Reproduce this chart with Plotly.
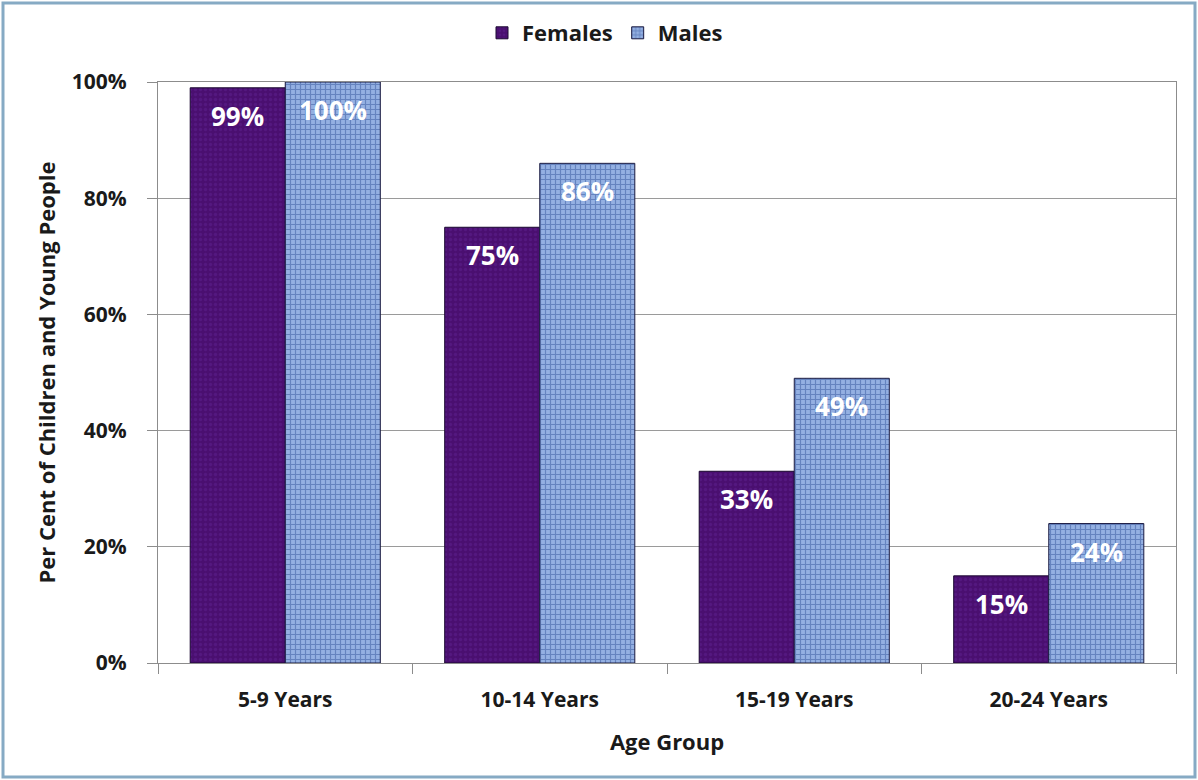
import plotly.graph_objects as go

categories = ["5-9 Years", "10-14 Years", "15-19 Years", "20-24 Years"]
females = [99, 75, 33, 15]
males = [100, 86, 49, 24]
y_ticks = [0, 20, 40, 60, 80, 100]
y_tick_labels = ["0%", "20%", "40%", "60%", "80%", "100%"]

FONT = "'Open Sans', Lato, Arial, sans-serif"
W, H = 1198, 780
ML, MR, MT, MB = 158, 22, 82, 117

fig = go.Figure()
fig.add_trace(go.Bar(
    name="Females", x=categories, y=females,
    marker=dict(color="#4a0f70", line=dict(color="#1a0830", width=1),
                pattern=dict(shape=".", fgcolor="#5e2290", size=5, solidity=0.35)),
))
fig.add_trace(go.Bar(
    name="Males", x=categories, y=males,
    marker=dict(color="#94b0e2", line=dict(color="#1a1a40", width=1),
                pattern=dict(shape="+", fgcolor="#35559b", bgcolor="#94b0e2", size=5, solidity=0.42)),
))

# value labels inside bars near the top
annots = []
for vals, shift in ((females, -47.5), (males, 47.5)):
    for c, v in zip(categories, vals):
        annots.append(dict(x=c, y=v, xref="x", yref="y", text=f"<b>{v}%</b>",
                           showarrow=False, xshift=shift, yshift=-28,
                           font=dict(family=FONT, size=26, color="white")))

# outer frame
pw, ph = W - ML - MR, H - MT - MB
x0 = (3 - ML) / pw
x1 = (W - 3 - ML) / pw
y0 = -(H - 3 - MT - ph) / ph
y1 = 1 + (MT - 3) / ph

fig.update_layout(
    width=W, height=H,
    margin=dict(l=ML, r=MR, t=MT, b=MB),
    paper_bgcolor="white", plot_bgcolor="white",
    barmode="group", bargap=0.253, bargroupgap=0,
    font=dict(family=FONT, size=18, color="#1a1a1a"),
    legend=dict(orientation="h", x=(605 - ML) / pw, xanchor="center", y=1 + 49 / ph, yanchor="middle",
                font=dict(size=22, color="#1a1a1a", family=FONT, weight="bold"), traceorder="normal",
                itemwidth=30, bgcolor="rgba(0,0,0,0)"),
    annotations=annots,
    shapes=[dict(type="rect", xref="paper", yref="paper", x0=x0, x1=x1, y0=y0, y1=y1,
                 line=dict(color="#86aac4", width=3), layer="below")],
    xaxis=dict(
        showline=True, linecolor="#8c8c8c", linewidth=1, mirror=True,
        ticks="outside", ticklen=10, tickcolor="#8c8c8c", tickson="boundaries",
        ticklabelstandoff=18,
        tickfont=dict(size=21, family=FONT, color="#1a1a1a", weight="bold"),
        title=dict(text="<b>Age Group</b>", font=dict(size=22, family=FONT, color="#1a1a1a"), standoff=22),
        automargin=False,
    ),
    yaxis=dict(
        range=[0, 100], tickvals=y_ticks, ticktext=y_tick_labels,
        showgrid=True, gridcolor="#9a9a9a", gridwidth=1,
        showline=True, linecolor="#8c8c8c", linewidth=1, mirror=True,
        ticks="outside", ticklen=10, tickcolor="#8c8c8c",
        ticklabelstandoff=16,
        tickfont=dict(size=21, family=FONT, color="#1a1a1a", weight="bold"),
        title=dict(text="<b>Per Cent of Children and Young People</b>",
                   font=dict(size=22, family=FONT, color="#1a1a1a"), standoff=10),
        automargin=False, zeroline=False,
    ),
)

fig.write_html("out.html")
